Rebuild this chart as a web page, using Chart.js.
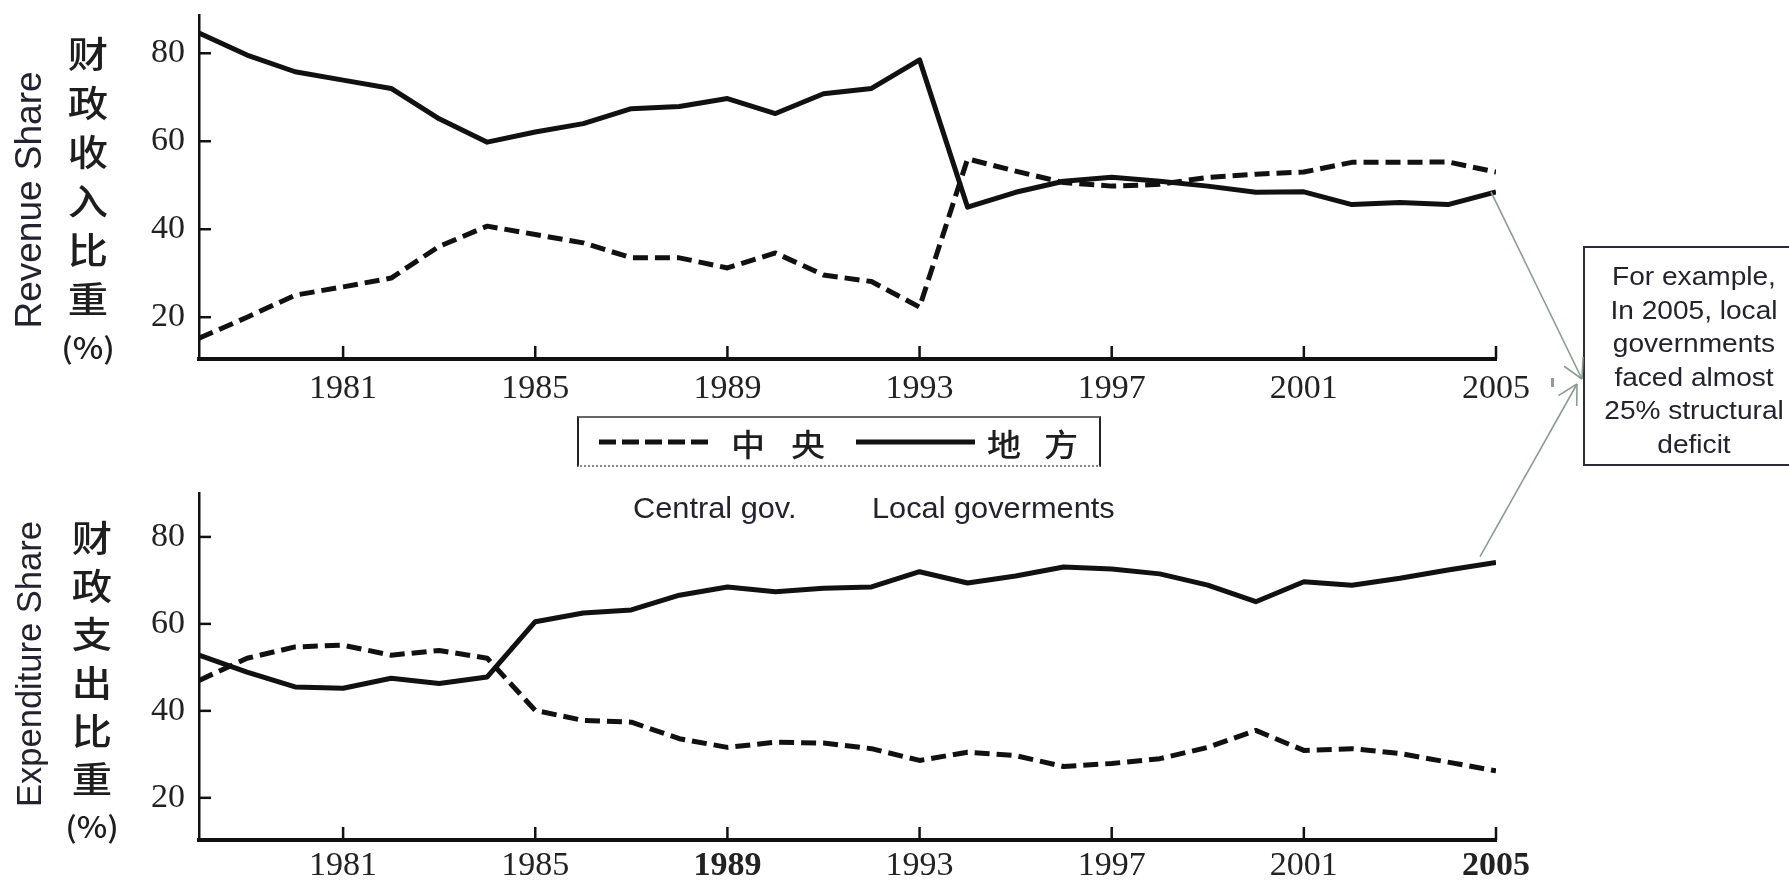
<!DOCTYPE html>
<html><head><meta charset="utf-8">
<script src="https://cdn.jsdelivr.net/npm/chart.js@4.4.1/dist/chart.umd.min.js"></script>
<style>
html,body{margin:0;padding:0;background:#fff;width:1789px;height:882px;overflow:hidden;position:relative;}
canvas{position:absolute;left:0;}
#c1{top:0}
#c2{top:440px}
.t{position:absolute;white-space:nowrap;color:#23232f;font-family:"Liberation Sans",Arial,sans-serif;z-index:3;}
.rot{transform:translate(-50%,-50%) rotate(-90deg);}
.cn{position:absolute;width:80px;font-family:"Noto Sans CJK SC",sans-serif;font-weight:500;color:#1e1e1e;text-align:center;z-index:3;}
.cn div{height:49px;line-height:49px;font-size:36px;transform:scaleX(1.12);}
.cn div.p{font-size:29px;}
.lg{position:absolute;font-family:"Noto Sans CJK SC",sans-serif;font-weight:500;font-size:31px;line-height:1;color:#1e1e1e;transform:translate(-50%,-50%) scaleX(1.1);z-index:3;}
#legbox{position:absolute;left:577px;top:416px;width:520px;height:47px;border-top:2px solid #666;border-left:2px solid #222;border-right:2px solid #222;border-bottom:2px dotted #888;z-index:2;}
#note{position:absolute;left:1583px;top:246px;width:218px;height:204px;border:2px solid #2d2d3a;background:#fff;z-index:3;padding-top:12px;box-sizing:content-box;}
#note div{height:33.6px;line-height:33.6px;font-size:26px;text-align:center;color:#23232f;font-family:"Liberation Sans",Arial,sans-serif;transform:scaleX(1.08);}
svg{position:absolute;left:0;top:0;z-index:4;pointer-events:none;}
</style></head><body>
<canvas id="c1" width="1789" height="440"></canvas>
<canvas id="c2" width="1789" height="442"></canvas>

<div class="t rot" style="left:29px;top:200px;font-size:37px;">Revenue Share</div>
<div class="t rot" style="left:29px;top:664px;font-size:34.5px;">Expenditure Share</div>

<div class="cn" style="left:48px;top:28px;">
  <div>财</div><div>政</div><div>收</div><div>入</div><div>比</div><div>重</div><div class="p">(%)</div>
</div>
<div class="cn" style="left:52px;top:512px;">
  <div style="height:48.2px;line-height:48.2px">财</div><div style="height:48.2px;line-height:48.2px">政</div><div style="height:48.2px;line-height:48.2px">支</div><div style="height:48.2px;line-height:48.2px">出</div><div style="height:48.2px;line-height:48.2px">比</div><div style="height:48.2px;line-height:48.2px">重</div><div class="p" style="height:48.2px;line-height:48.2px">(%)</div>
</div>

<div id="legbox"></div>
<div class="lg" style="left:748px;top:442px;">中</div>
<div class="lg" style="left:808px;top:442px;">央</div>
<div class="lg" style="left:1004px;top:442px;">地</div>
<div class="lg" style="left:1061px;top:442px;">方</div>

<div class="t" style="left:633px;top:494px;font-size:29px;line-height:29px;transform:scaleX(1.06);transform-origin:left center;">Central gov.</div>
<div class="t" style="left:872px;top:494px;font-size:29px;line-height:29px;transform:scaleX(1.06);transform-origin:left center;">Local goverments</div>

<div id="note">
  <div>For example,</div><div>In 2005, local</div><div>governments</div><div>faced almost</div><div>25% structural</div><div>deficit</div>
</div>

<div style="position:absolute;left:1551px;top:378px;width:3px;height:9px;background:#999;z-index:3;"></div>

<svg id="ov" width="1789" height="882"></svg>

<script>
// ---- data ----
const years = [1978,1979,1980,1981,1982,1983,1984,1985,1986,1987,1988,1989,1990,1991,1992,1993,1994,1995,1996,1997,1998,1999,2000,2001,2002,2003,2004,2005];
const revenueCentral = [15.2,20.0,25.0,26.9,28.9,36.1,40.7,38.8,36.9,33.5,33.5,31.2,34.6,29.6,28.1,22.3,56.0,53.2,50.6,49.8,50.2,51.8,52.5,53.0,55.2,55.2,55.3,53.0];
const revenueLocal   = [84.6,79.6,75.8,73.9,72.0,65.1,59.8,62.1,64.0,67.4,67.9,69.7,66.3,70.8,72.0,78.5,45.0,48.4,50.9,51.8,50.9,49.8,48.4,48.5,45.6,46.1,45.6,48.5];
const expCentral     = [47.0,52.1,54.7,55.1,52.8,53.9,52.1,40.1,37.8,37.4,33.6,31.6,32.8,32.6,31.3,28.6,30.5,29.7,27.2,27.9,29.0,31.6,35.5,30.9,31.3,30.2,28.2,26.2];
const expLocal       = [52.8,48.9,45.5,45.2,47.5,46.3,47.8,60.5,62.5,63.2,66.6,68.5,67.4,68.2,68.5,72.0,69.4,71.0,73.1,72.6,71.5,68.9,65.1,69.7,68.9,70.5,72.4,74.1];
const xTickYears = [1981,1985,1989,1993,1997,2001,2005];
const yTicks = [20,40,60,80];
const seriesNames = ['中央','地方'];

const tickMarks = {
  id:'tickMarks',
  afterDraw(chart){
    const {ctx, scales:{x,y}, chartArea:a} = chart;
    ctx.save(); ctx.strokeStyle='#111'; ctx.lineWidth=2.5;
    xTickYears.forEach(v=>{const px=x.getPixelForValue(v); ctx.beginPath(); ctx.moveTo(px,a.bottom); ctx.lineTo(px,a.bottom-13); ctx.stroke();});
    yTicks.forEach(v=>{const py=y.getPixelForValue(v); ctx.beginPath(); ctx.moveTo(a.left,py); ctx.lineTo(a.left+12,py); ctx.stroke();});
    ctx.restore();
  }
};

function makeChart(id, central, local, yMin, yMax, padTop, xH, xPad, boldYears){
  return new Chart(document.getElementById(id), {
    type:'line',
    data:{datasets:[
      {label:seriesNames[0], data:years.map((yr,i)=>({x:yr,y:central[i]})), borderColor:'#111', borderWidth:5, borderDash:[15,7], pointRadius:0, tension:0, borderCapStyle:'butt', borderJoinStyle:'round'},
      {label:seriesNames[1], data:years.map((yr,i)=>({x:yr,y:local[i]})), borderColor:'#111', borderWidth:5, pointRadius:0, tension:0, borderJoinStyle:'round'}
    ]},
    options:{
      responsive:false, animation:false, devicePixelRatio:1,
      layout:{padding:{left:0,right:293,top:padTop,bottom:0}},
      plugins:{legend:{display:false}, tooltip:{enabled:false}},
      scales:{
        x:{type:'linear', min:1978, max:2005,
           grid:{display:false, drawTicks:false},
           border:{display:true, color:'#111', width:4},
           afterBuildTicks: s=>{ s.ticks = xTickYears.map(v=>({value:v})); },
           afterFit: s=>{ s.height = xH; s.paddingLeft = 0; s.paddingRight = 0; },
           ticks:{autoSkip:false, maxRotation:0, minRotation:0, padding:xPad, color:'#222',
             font: c=>({family:'Liberation Serif', size:34, weight:(c.tick && boldYears.includes(c.tick.value))?'bold':'normal'}),
             callback: v=>String(v)}},
        y:{type:'linear', min:yMin, max:yMax,
           grid:{display:false, drawTicks:false},
           border:{display:true, color:'#111', width:2.5},
           afterBuildTicks: s=>{ s.ticks = yTicks.map(v=>({value:v})); },
           afterFit: s=>{ s.width = 199; s.paddingTop = 0; s.paddingBottom = 0; },
           ticks:{padding:14, color:'#222', font:{family:'Liberation Serif', size:34}}}
      }
    },
    plugins:[tickMarks]
  });
}

const c1 = makeChart('c1', revenueCentral, revenueLocal, 10.5, 88.7, 15, 81, 10, []);
const c2 = makeChart('c2', expCentral, expLocal, 10.3, 90.1, 53, 42, 6, [1989,2005]);

// ---- overlay: legend samples and arrows ----
const svg = document.getElementById('ov');
const NS = 'http://www.w3.org/2000/svg';
function ln(x1,y1,x2,y2,attrs){
  const l=document.createElementNS(NS,'line');
  l.setAttribute('x1',x1);l.setAttribute('y1',y1);l.setAttribute('x2',x2);l.setAttribute('y2',y2);
  for(const k in attrs) l.setAttribute(k,attrs[k]);
  svg.appendChild(l);
}
ln(599,442,711,442,{stroke:'#111','stroke-width':5,'stroke-dasharray':'17 6'});
ln(856,442,975,442,{stroke:'#111','stroke-width':5});

function arrow(x1,y1,x2,y2){
  const st={stroke:'#8a9d91','stroke-width':1.6,fill:'none'};
  ln(x1,y1,x2,y2,st);
  const ang=Math.atan2(y2-y1,x2-x1), L=22, w=0.5;
  ln(x2,y2,x2-L*Math.cos(ang-w),y2-L*Math.sin(ang-w),st);
  ln(x2,y2,x2-L*Math.cos(ang+w),y2-L*Math.sin(ang+w),st);
}
const last = years.length-1;
const p1x = c1.scales.x.getPixelForValue(years[last]) - 5;
const p1y = c1.scales.y.getPixelForValue(revenueLocal[last]);
const p2x = c2.scales.x.getPixelForValue(years[last]) - 16;
const p2y = c2.scales.y.getPixelForValue(expLocal[last]) + 440 - 6;
arrow(p1x,p1y,1582,379);
arrow(p2x,p2y,1577,384);
</script>
</body></html>
